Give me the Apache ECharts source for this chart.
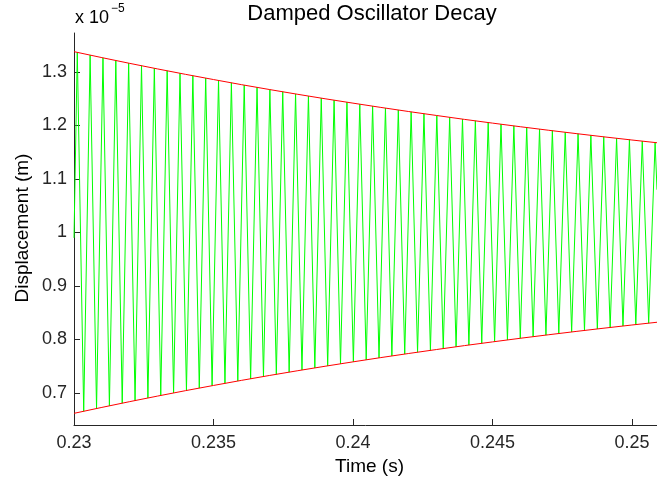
<!DOCTYPE html>
<html>
<head>
<meta charset="utf-8">
<script src="https://cdn.jsdelivr.net/npm/echarts@6/dist/echarts.min.js"></script>
<style>
html,body{margin:0;padding:0;background:#fff;}
#chart{width:657px;height:480px;}
</style>
</head>
<body>
<div id="chart"></div>
<script>
// Oscillation turning points (time in s, displacement in units of 1e-5 m)
const oscTime = [
0.230000,
0.230118,0.230348,0.230578,0.230808,0.231039,0.231269,0.231499,0.231729,0.231959,0.232189,
0.232420,0.232650,0.232880,0.233110,0.233340,0.233570,0.233800,0.234031,0.234261,0.234491,
0.234721,0.234951,0.235181,0.235412,0.235642,0.235872,0.236102,0.236332,0.236562,0.236792,
0.237023,0.237253,0.237483,0.237713,0.237943,0.238173,0.238404,0.238634,0.238864,0.239094,
0.239324,0.239554,0.239785,0.240015,0.240245,0.240475,0.240705,0.240935,0.241165,0.241396,
0.241626,0.241856,0.242086,0.242316,0.242546,0.242777,0.243007,0.243237,0.243467,0.243697,
0.243927,0.244157,0.244388,0.244618,0.244848,0.245078,0.245308,0.245538,0.245769,0.245999,
0.246229,0.246459,0.246689,0.246919,0.247149,0.247380,0.247610,0.247840,0.248070,0.248300,
0.248530,0.248761,0.248991,0.249221,0.249451,0.249681,0.249911,0.250141,0.250372,0.250602,
0.250832,
0.250900
];
const oscValue = [
0.990,
1.3367,0.6659,1.3315,0.6710,1.3264,0.6761,1.3214,0.6810,1.3165,0.6859,
1.3117,0.6907,1.3069,0.6955,1.3022,0.7001,1.2976,0.7047,1.2930,0.7092,
1.2886,0.7137,1.2841,0.7181,1.2798,0.7224,1.2755,0.7266,1.2713,0.7308,
1.2671,0.7349,1.2631,0.7390,1.2590,0.7430,1.2551,0.7469,1.2512,0.7508,
1.2473,0.7546,1.2436,0.7583,1.2398,0.7620,1.2362,0.7657,1.2325,0.7693,
1.2290,0.7728,1.2255,0.7763,1.2220,0.7797,1.2186,0.7830,1.2153,0.7864,
1.2120,0.7896,1.2087,0.7929,1.2056,0.7960,1.2024,0.7992,1.1993,0.8022,
1.1963,0.8053,1.1933,0.8082,1.1903,0.8112,1.1874,0.8141,1.1845,0.8169,
1.1817,0.8197,1.1789,0.8225,1.1762,0.8252,1.1735,0.8278,1.1709,0.8305,
1.1682,
1.080
];
// Envelope (red) samples
const envTime = [0.230,0.231,0.232,0.233,0.234,0.235,0.236,0.237,0.238,0.239,0.240,
                 0.241,0.242,0.243,0.244,0.245,0.246,0.247,0.248,0.249,0.250,0.251];
const upperEnv = [1.3380,1.3269,1.3161,1.3057,1.2956,1.2859,1.2764,1.2673,1.2585,1.2500,1.2418,
                  1.2338,1.2261,1.2187,1.2114,1.2045,1.1977,1.1912,1.1849,1.1788,1.1729,1.1672];
const lowerEnv = [0.6620,0.6731,0.6839,0.6943,0.7044,0.7141,0.7236,0.7327,0.7415,0.7500,0.7582,
                  0.7662,0.7739,0.7813,0.7886,0.7955,0.8023,0.8088,0.8151,0.8212,0.8271,0.8328];
const xTicks = [0.23,0.235,0.24,0.245,0.25];
const yTicks = [0.7,0.8,0.9,1.0,1.1,1.2,1.3];
const titleText = 'Damped Oscillator Decay';
const xName = 'Time (s)';
const yName = 'Displacement (m)';

const FONT = "'Liberation Sans', Arial, Helvetica, sans-serif";
const fmt = v => String(Math.round(v*1000)/1000);

const chart = echarts.init(document.getElementById('chart'), null, {renderer:'canvas'});
chart.setOption({
  animation:false,
  backgroundColor:'#fff',
  grid:{left:74, right:0, top:33, bottom:55, containLabel:false},
  xAxis:{
    type:'value', min:0.23, max:0.2509,
    axisLine:{show:true, lineStyle:{color:'#262626', width:1}},
    axisTick:{show:true, inside:true, length:6, customValues:xTicks, lineStyle:{color:'#262626'}},
    axisLabel:{show:true, customValues:xTicks, formatter:fmt, margin:9,
      fontFamily:FONT, fontSize:18, color:'#262626'},
    splitLine:{show:false}
  },
  yAxis:{
    type:'value', min:0.6402, max:1.3729,
    axisLine:{show:true, lineStyle:{color:'#262626', width:1}},
    axisTick:{show:true, inside:true, length:6, customValues:yTicks, lineStyle:{color:'#262626'}},
    axisLabel:{show:true, customValues:yTicks, formatter:fmt, margin:7,
      fontFamily:FONT, fontSize:18, color:'#262626'},
    splitLine:{show:false}
  },
  graphic:[
    {type:'text', x:372, y:14, style:{text:titleText, font:'22px '+FONT, fill:'#000',
      align:'center', verticalAlign:'middle', textAlign:'center', textVerticalAlign:'middle'}},
    {type:'text', x:369.5, y:467, style:{text:xName, font:'19px '+FONT, fill:'#000',
      align:'center', verticalAlign:'middle', textAlign:'center', textVerticalAlign:'middle'}},
    {type:'text', x:23, y:228, rotation:Math.PI/2, style:{text:yName, font:'19px '+FONT, fill:'#000',
      align:'center', verticalAlign:'middle', textAlign:'center', textVerticalAlign:'middle'}},
    {type:'text', x:75, y:18, style:{text:'x 10', font:'18px '+FONT, fill:'#000',
      align:'left', verticalAlign:'middle', textAlign:'left', textVerticalAlign:'middle'}},
    {type:'text', x:111, y:9, style:{text:'\u22125', font:'12px '+FONT, fill:'#000',
      align:'left', verticalAlign:'middle', textAlign:'left', textVerticalAlign:'middle'}}
  ],
  series:[
    {type:'line', name:'oscillation', data:oscTime.map((t,i)=>[t, oscValue[i]]),
      showSymbol:false, symbol:'none', lineStyle:{color:'#00ff00', width:1}, z:2, clip:true},
    {type:'line', name:'upper', data:envTime.map((t,i)=>[t, upperEnv[i]]),
      showSymbol:false, symbol:'none', smooth:false, lineStyle:{color:'#ff0000', width:1}, z:3, clip:true},
    {type:'line', name:'lower', data:envTime.map((t,i)=>[t, lowerEnv[i]]),
      showSymbol:false, symbol:'none', smooth:false, lineStyle:{color:'#ff0000', width:1}, z:3, clip:true}
  ]
});
</script>
</body>
</html>
